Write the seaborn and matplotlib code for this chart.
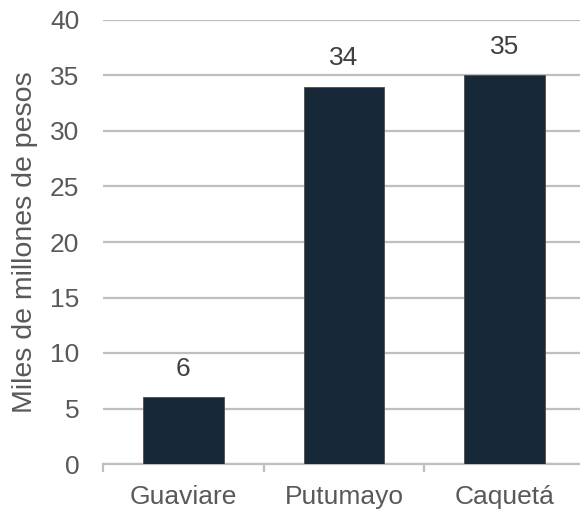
import matplotlib
matplotlib.use("Agg")
import matplotlib.pyplot as plt
import seaborn as sns
import pandas as pd

categories = ["Guaviare", "Putumayo", "Caquetá"]
values = [6, 34, 35]
y_ticks = [0, 5, 10, 15, 20, 25, 30, 35, 40]

sns.set_theme(style="white")
plt.rcParams['font.family'] = ['Liberation Sans', 'DejaVu Sans']

df = pd.DataFrame({"cat": categories, "val": values})

fig = plt.figure(figsize=(5.8, 5.14), dpi=100)
ax = fig.add_axes([103/580, 50/514, 482/580, 444/514])

sns.barplot(data=df, x="cat", y="val", color="#172838", width=0.5,
            saturation=1, edgecolor="#5a4a40", linewidth=0.6, ax=ax, zorder=3)

ax.set_ylim(0, 40)
ax.set_xlim(-0.5, 2.5)
ax.set_yticks(y_ticks)
ax.yaxis.grid(True, color="#BFBFBF", linewidth=1.6, zorder=0)
ax.set_axisbelow(True)

for s in ["top", "right", "left"]:
    ax.spines[s].set_visible(False)
ax.spines["bottom"].set_color("#BFBFBF")
ax.spines["bottom"].set_linewidth(1.6)

ax.set_xticks([0, 1, 2])
ax.set_xticklabels(categories)
ax.set_xticks([-0.5, 0.5, 1.5, 2.5], minor=True)
ax.tick_params(axis="x", which="major", length=0, pad=15, labelsize=19, labelcolor="#595959")
ax.tick_params(axis="x", which="minor", bottom=True, length=5.5, width=1.6, color="#BFBFBF", direction="out")
ax.tick_params(axis="y", length=0, pad=17, labelsize=19, labelcolor="#595959")

ax.set_xlabel("")
ax.set_ylabel("Miles de millones de pesos", fontsize=20.5, color="#595959", labelpad=9)

for c in ax.containers:
    ax.bar_label(c, labels=[str(v) for v in values], padding=12, fontsize=19, color="#404040")

fig.savefig("out.png", dpi=100)
